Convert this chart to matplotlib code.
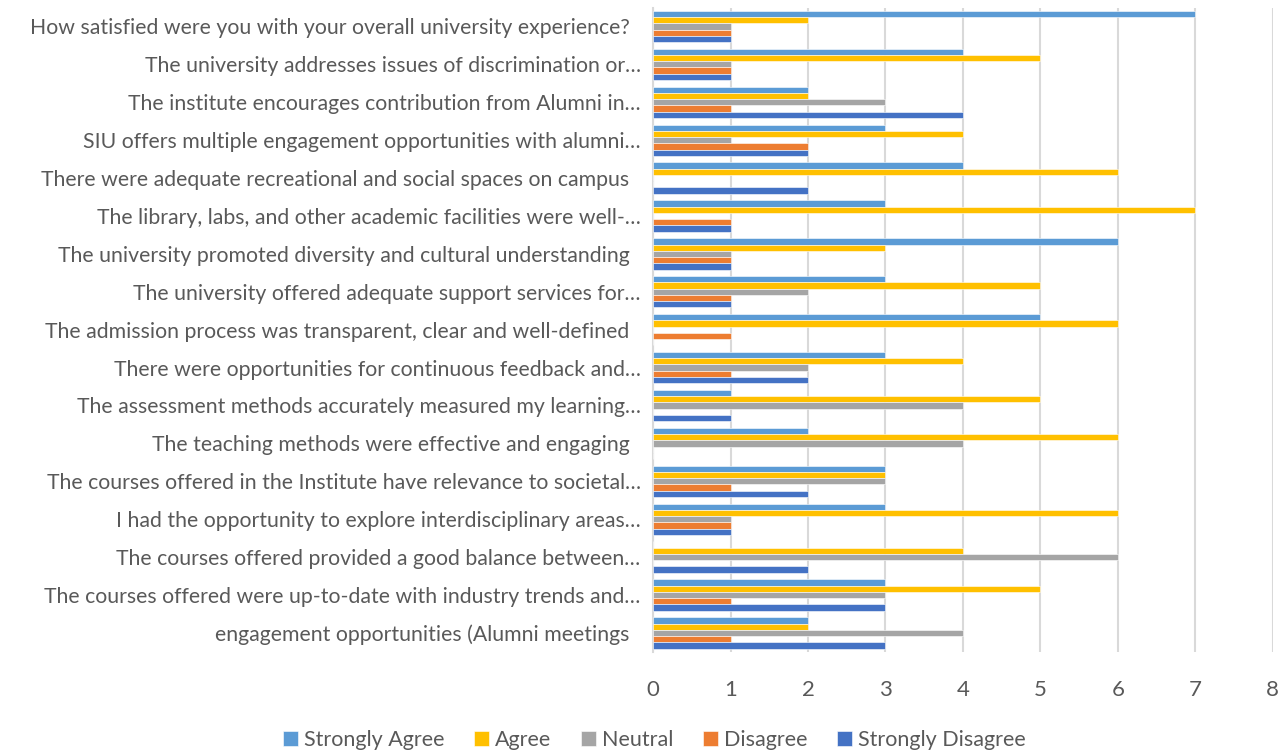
import matplotlib.pyplot as plt
import numpy as np

questions = [
    "How satisfied were you with your overall university experience?  ",
    "The university addresses issues of discrimination or…",
    "The institute encourages contribution from Alumni in…",
    "SIU offers multiple engagement opportunities with alumni…",
    "There were adequate recreational and social spaces on campus  ",
    "The library, labs, and other academic facilities were well-…",
    "The university promoted diversity and cultural understanding  ",
    "The university offered adequate support services for…",
    "The admission process was transparent, clear and well-defined  ",
    "There were opportunities for continuous feedback and…",
    "The assessment methods accurately measured my learning…",
    "The teaching methods were effective and engaging  ",
    "The courses offered in the Institute have relevance to societal…",
    "I had the opportunity to explore interdisciplinary areas…",
    "The courses offered provided a good balance between…",
    "The courses offered were up-to-date with industry trends and…",
    "engagement opportunities (Alumni meetings  ",
]

strongly_agree = [7, 4, 2, 3, 4, 3, 6, 3, 5, 3, 1, 2, 3, 3, 0, 3, 2]
agree = [2, 5, 2, 4, 6, 7, 3, 5, 6, 4, 5, 6, 3, 6, 4, 5, 2]
neutral = [1, 1, 3, 1, 0, 0, 1, 2, 0, 2, 4, 4, 3, 1, 6, 3, 4]
disagree = [1, 1, 1, 2, 0, 1, 1, 1, 1, 1, 0, 0, 1, 1, 0, 1, 1]
strongly_disagree = [1, 1, 4, 2, 2, 1, 1, 1, 0, 2, 1, 0, 2, 1, 2, 3, 3]

series = [
    ("Strongly Agree", strongly_agree, "#5B9BD5"),
    ("Agree", agree, "#FFC000"),
    ("Neutral", neutral, "#A5A5A5"),
    ("Disagree", disagree, "#ED7D31"),
    ("Strongly Disagree", strongly_disagree, "#4472C4"),
]

plt.rcParams['font.family'] = ['Lato', 'DejaVu Sans']
text_color = "#595959"

fig = plt.figure(figsize=(12.83, 7.51), dpi=100)
ax = fig.add_axes([0.509, 0.132, 0.483, 0.858])

y = np.arange(len(questions))
h = 0.165
for i, (name, vals, color) in enumerate(series):
    ax.barh(y + (i - 2) * h, vals, height=h, color=color, label=name,
            edgecolor="white", linewidth=0.4, zorder=3)

ax.set_yticks(y)
ax.set_yticklabels(questions, fontsize=15.3, color=text_color)
ax.set_ylim(len(questions) - 0.5, -0.5)
ax.set_xlim(0, 8)
ax.set_xticks(range(9))
ax.tick_params(axis='x', labelsize=16, labelcolor=text_color, length=0, pad=20)
ax.tick_params(axis='y', length=0, pad=9)
ax.grid(axis='x', color="#D9D9D9", linewidth=1.5, zorder=0)
for s in ["top", "right", "bottom"]:
    ax.spines[s].set_visible(False)
ax.spines["left"].set_color("#D9D9D9")
ax.spines["left"].set_linewidth(1.5)

fig.legend(loc="lower center", bbox_to_anchor=(0.51, -0.024), ncol=5, frameon=False,
           fontsize=15.5, labelcolor=text_color, handlelength=0.7, handleheight=0.7,
           handletextpad=0.25, columnspacing=1.4)

fig.savefig("out.png", dpi=100)
